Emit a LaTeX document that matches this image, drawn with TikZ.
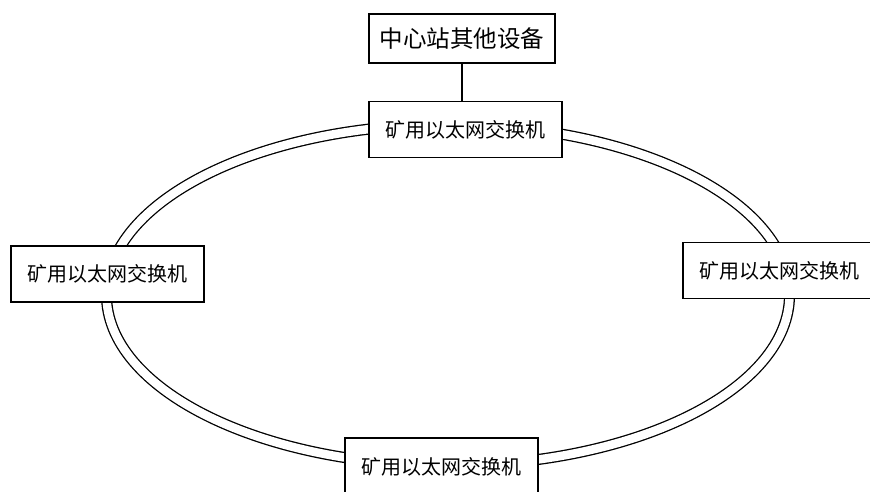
\documentclass[tikz,border=0pt]{standalone}
\usepackage{fontspec}
\newfontfamily\cjk{Noto Sans CJK SC}
\usetikzlibrary{positioning}

\begin{document}
\begin{tikzpicture}[x=1pt, y=1pt,
  plainBox/.style={draw, line width=1.5pt, fill=white, inner sep=0pt},
  switchBox/.style={plainBox, minimum width=193pt, minimum height=56pt, font=\cjk\fontsize{20}{20}\selectfont}]
\useasboundingbox (0,0) rectangle (870,492);
% double ring
\draw[line width=1.3pt, double=white, double distance=8.5pt] (448,197) ellipse [x radius=341.5, y radius=170.5];
% switches on the ring
\node[switchBox] (swTop) at (465.5,362.5) {矿用以太网交换机};
\node[switchBox] (swLeft) at (107.5,218) {矿用以太网交换机};
\node[switchBox] (swRight) at (779.5,221.5) {矿用以太网交换机};
\node[switchBox, minimum height=58pt] (swBottom) at (441.5,25) {矿用以太网交换机};
% other devices
\node[plainBox, minimum width=186pt, minimum height=49pt, font=\cjk\fontsize{23.5}{23.5}\selectfont] (centerDev) at (462,453.5) {中心站其他设备};
\draw[line width=1.5pt] (centerDev.south) -- (centerDev.south |- swTop.north);
\end{tikzpicture}
\end{document}
